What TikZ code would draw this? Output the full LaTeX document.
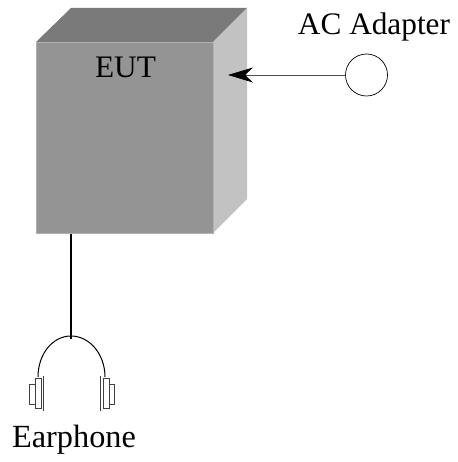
\documentclass[tikz,border=0pt]{standalone}
\usepackage{fontspec}
\setmainfont{Liberation Serif}
\usetikzlibrary{arrows.meta}
\tikzset{
  lbl/.style={inner sep=0pt,anchor=base,font=\fontsize{31.3}{31.3}\selectfont,text=black},
  cup/.style={draw=black!75,line width=0.8pt,fill=white},
  wire/.style={draw=black,line width=1.3pt}
}
\begin{document}
\begin{tikzpicture}[x=1pt,y=-1pt]
\useasboundingbox (0,0) rectangle (457,462);
% box
\fill[black!52] (36,42) -- (71,8) -- (247,8) -- (213,42) -- cycle;
\fill[black!24] (213,42) -- (247,8) -- (247,199) -- (213,233) -- cycle;
\node[draw=black!30,line width=1pt,fill=black!42,minimum width=177pt,minimum height=191pt,inner sep=0pt,anchor=north west] (box) at (36,42) {};
\node[lbl] (eut) at (125.5,78) {EUT};
% adapter
\node[draw=black,line width=0.7pt,fill=white,circle,minimum size=42pt,inner sep=0pt] (ac) at (366.5,75) {};
\node[lbl] (aclabel) at (374,35) {AC Adapter};
\coordinate (tip) at (228,75);
\draw[draw=black!70,line width=0.7pt,-{Stealth[length=25pt,width=15pt,inset=8pt,black]}] (ac.west) -- (tip);
% earphone
\coordinate (hp) at (71,336);
\draw[wire] (box.south -| hp) -- (71,339);
\draw[black,line width=1pt] (38,377) .. controls (38,354) and (52.6,336) .. (hp) .. controls (89.4,336) and (105,354) .. (105,377);
\draw[cup] (35,378) rectangle (41,408);
\draw[cup] (29,384) rectangle (35,404);
\draw[black!75,line width=0.8pt] (43,376) -- (43,411);
\draw[cup] (103,378) rectangle (109,408);
\draw[cup] (109,384) rectangle (114,404);
\draw[black!75,line width=0.8pt] (100,376) -- (100,411);
\node[lbl,font=\fontsize{32.3}{32.3}\selectfont] (ear) at (74,447) {Earphone};
\end{tikzpicture}
\end{document}
